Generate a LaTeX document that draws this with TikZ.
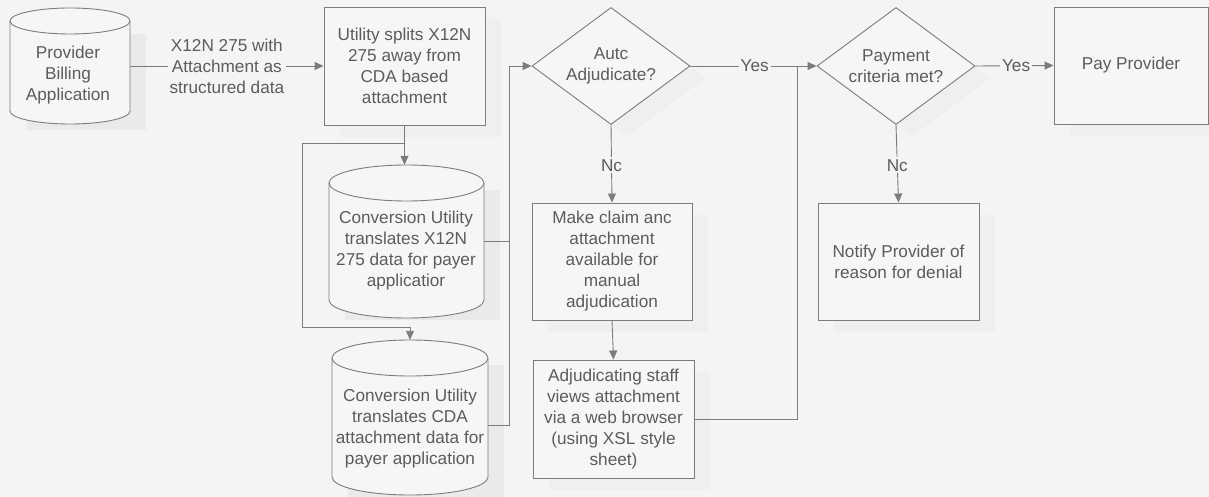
\documentclass[tikz,border=0pt]{standalone}
\usepackage{fontspec}
\setmainfont{Liberation Sans}
\usetikzlibrary{shapes.geometric,arrows.meta,shadows,calc}
\definecolor{bgc}{HTML}{F4F4F4}
\definecolor{boxc}{HTML}{F6F6F6}
\definecolor{linec}{HTML}{7C7C7C}
\definecolor{txtc}{HTML}{5C5C5C}
\begin{document}
\begin{tikzpicture}[x=1pt,y=-1pt,
  font=\fontsize{17.2}{21}\selectfont,
  every node/.style={text=txtc},
  ln/.style={draw=linec, line width=0.9pt},
  arr/.style={ln, -{Triangle[length=9pt,width=8pt]}},
  shad/.style={drop shadow={shadow xshift=16pt, shadow yshift=-12pt, opacity=0.04}},
  procbox/.style={draw=linec, fill=boxc, line width=0.9pt, rectangle, align=center, inner sep=0pt, shad},
  decision/.style={draw=linec, fill=boxc, line width=0.9pt, diamond, inner sep=0pt, minimum width=158pt, minimum height=117pt, shad},
  dtext/.style={align=center, text=txtc},
  frame/.style={rectangle, draw=none, inner sep=0pt},
  cyltext/.style={align=center},
  lbl/.style={fill=bgc, inner sep=2pt, align=center},
  cylpath/.style={draw=linec, fill=boxc, line width=0.9pt},
  cylshad/.style={fill=black, opacity=0.04}
]
\fill[bgc] (0,0) rectangle (1209,497);
\useasboundingbox (0,0) rectangle (1209,497);

% ---- cylinders (drawn shapes) ----
\fill[cylshad] (26,34) rectangle (146,130);
\path[cylpath] (10,21) -- (10,111) arc[start angle=180,end angle=360,x radius=60pt,y radius=13pt] -- (130,21) arc[start angle=0,end angle=180,x radius=60pt,y radius=13pt] -- cycle;
\draw[ln] (10,21) arc[start angle=180,end angle=360,x radius=60pt,y radius=13pt];

\fill[cylshad] (345,190) rectangle (500,320);
\path[cylpath] (329,183) -- (329,300) arc[start angle=180,end angle=360,x radius=77.5pt,y radius=18pt] -- (484,183) arc[start angle=0,end angle=180,x radius=77.5pt,y radius=18pt] -- cycle;
\draw[ln] (329,183) arc[start angle=180,end angle=360,x radius=77.5pt,y radius=18pt];

\fill[cylshad] (348,365) rectangle (504,497);
\path[cylpath] (332,358) -- (332,477) arc[start angle=180,end angle=360,x radius=78pt,y radius=18pt] -- (488,358) arc[start angle=0,end angle=180,x radius=78pt,y radius=18pt] -- cycle;
\draw[ln] (332,358) arc[start angle=180,end angle=360,x radius=78pt,y radius=18pt];

\node[frame, minimum width=120pt, minimum height=116pt] (prov) at (70,66) {};
\node[frame, minimum width=155pt, minimum height=153pt] (cyl2) at (406.5,241.5) {};
\node[frame, minimum width=156pt, minimum height=155pt] (cyl3) at (410,417.5) {};
\node[cyltext] (provt) at (68,75) {Provider\\Billing\\Application};
\node[cyltext] (cyl2t) at (406,251) {Conversion Utility\\translates X12N\\275 data for payer\\applicatior};
\node[cyltext] (cyl3t) at (410,429) {Conversion Utility\\translates CDA\\attachment data for\\payer application};

% ---- boxes ----
\node[procbox, minimum width=161pt, minimum height=118pt] (box1) at (404.5,66) {Utility splits X12N\\275 away from\\CDA based\\attachment};
\node[procbox, minimum width=160pt, minimum height=117pt] (make) at (612,261.5) {Make claim anc\\attachment\\available for\\manual\\adjudication};
\node[procbox, minimum width=161pt, minimum height=118pt] (adj) at (613.5,419) {Adjudicating staff\\views attachment\\via a web browser\\(using XSL style\\sheet)};
\node[procbox, minimum width=161pt, minimum height=117pt] (notify) at (898.5,261.5) {Notify Provider of\\reason for denial};
\node[procbox, minimum width=154pt, minimum height=117pt] (pay) at (1131,65.5) {Pay Provider};

% ---- decisions ----
\node[decision, label={[dtext]center:Autc\\Adjudicate?}] (dia1) at (611,66) {};
\node[decision, label={[dtext]center:Payment\\criteria met?}] (dia2) at (896,66) {};

% ---- connectors ----
\draw[arr] (prov.east) -- (box1.west) node[lbl, midway] {X12N 275 with\\Attachment as\\structured data};

\coordinate (split) at ($(box1.south)+(0,18)$);
\coordinate (loopL) at (302,327);
\draw[arr] (box1.south) -- (box1.south |- cyl2.north);
\draw[arr] (split) -| (loopL) -| (cyl3.north);

\coordinate (bus1) at (509,0);
\draw[ln] (cyl2.east) -- (cyl2.east -| bus1);
\draw[arr] ($(cyl3.east)+(0,8)$) -| (bus1 |- dia1.west) -- (dia1.west);

\draw[arr] (dia1.east) -- (dia2.west) node[lbl, pos=0.51] {Yes};
\coordinate (bus2) at (797,0);
\draw[ln] (adj.east) -| (bus2 |- dia1.east);

\draw[arr] (dia1.south) -- (make.north) node[lbl, pos=0.52] {Nc};
\draw[arr] (make.south) -- (adj.north);

\draw[arr] (dia2.east) -- (pay.west) node[lbl, pos=0.52] {Yes};
\draw[arr] (dia2.south) -- (notify.north) node[lbl, pos=0.52] {Nc};
\end{tikzpicture}
\end{document}
